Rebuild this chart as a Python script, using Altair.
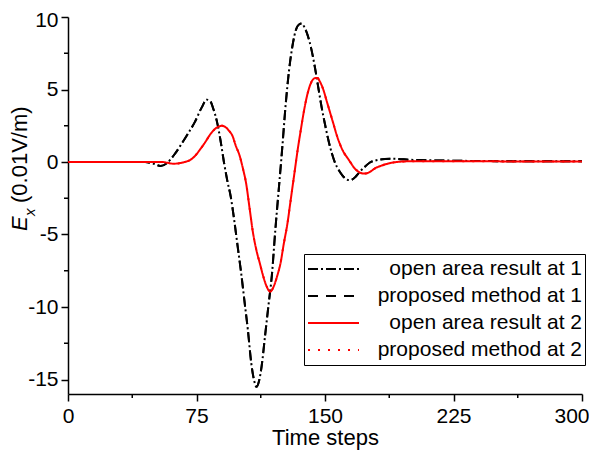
import altair as alt
import pandas as pd

# ---- data ----
steps_1 = [0, 30, 45, 50, 54, 58, 62, 66, 70, 74, 78, 81, 83, 85, 87, 89, 91, 93, 95, 97,
           99, 101, 103, 105, 107, 108.5, 110, 111.5, 113, 115, 117, 119, 121, 123, 125,
           127, 129, 131, 133, 135, 136.5, 138, 140, 142, 144, 146, 148, 150, 152, 154,
           156, 158, 160, 162, 164, 166, 168, 170, 173, 176, 180, 185, 190, 200, 220, 250, 300]
ex_open_1 = [0, 0, 0, -0.12, -0.27, -0.05, 0.5, 1.2, 1.95, 2.75, 3.75, 4.3, 4.2, 3.6, 2.75,
             1.5, 0.0, -1.3, -2.4, -4.0, -5.8, -7.6, -9.6, -11.6, -13.9, -15.0, -15.5, -15.1,
             -14.1, -12.0, -9.9, -7.8, -4.7, -1.9, 0.9, 3.9, 6.3, 8.0, 9.1, 9.5, 9.55, 9.3,
             8.7, 7.8, 6.6, 5.2, 3.8, 2.6, 1.5, 0.6, -0.1, -0.55, -0.9, -1.15, -1.25, -1.2,
             -1.0, -0.72, -0.35, -0.05, 0.12, 0.2, 0.22, 0.15, 0.1, 0.06, 0.05]
ex_prop_1 = [0, 0, 0, -0.12, -0.27, -0.05, 0.5, 1.2, 1.95, 2.75, 3.75, 4.3, 4.2, 3.6, 2.75,
             1.5, 0.0, -1.3, -2.4, -4.0, -5.8, -7.6, -9.6, -11.6, -13.9, -15.0, -15.5, -15.1,
             -14.1, -12.0, -9.9, -7.8, -4.7, -1.9, 0.9, 3.9, 6.3, 8.0, 9.1, 9.5, 9.55, 9.3,
             8.7, 7.8, 6.6, 5.2, 3.8, 2.6, 1.5, 0.6, -0.1, -0.55, -0.9, -1.15, -1.25, -1.2,
             -1.0, -0.72, -0.35, -0.05, 0.12, 0.2, 0.22, 0.15, 0.1, 0.06, 0.05]

steps_2 = [0, 30, 50, 55, 58, 61.5, 65, 68, 71, 74, 77, 80, 83, 86, 88, 90, 92, 94, 96, 98,
           100, 102, 104, 106, 108, 110, 112, 114, 116, 118, 120, 122, 124, 126, 128, 130,
           132, 134, 136, 138, 140, 142, 144, 145.5, 147, 149, 151, 153, 155, 157, 159, 161,
           163, 165, 167, 169, 171, 173, 176, 179, 183, 187, 192, 200, 230, 260, 300]
ex_open_2 = [0, 0, 0, 0, -0.05, -0.12, -0.08, 0, 0.12, 0.4, 0.85, 1.35, 1.9, 2.3, 2.45, 2.5,
             2.4, 2.15, 1.8, 1.1, 0.5, -0.4, -1.5, -3.2, -4.9, -6.1, -7.0, -7.9, -8.6, -8.95,
             -8.6, -7.9, -7.0, -5.6, -4.3, -2.6, -0.9, 0.8, 2.3, 3.7, 4.8, 5.5, 5.78, 5.8,
             5.55, 5.0, 4.2, 3.4, 2.6, 1.8, 1.15, 0.65, 0.3, -0.05, -0.4, -0.62, -0.76, -0.8,
             -0.7, -0.45, -0.25, -0.1, 0, 0.05, 0.05, 0.04, 0.03]
ex_prop_2 = [0, 0, 0, 0, -0.05, -0.12, -0.08, 0, 0.12, 0.4, 0.85, 1.35, 1.9, 2.3, 2.45, 2.5,
             2.4, 2.15, 1.8, 1.1, 0.5, -0.4, -1.5, -3.2, -4.9, -6.1, -7.0, -7.9, -8.6, -8.95,
             -8.6, -7.9, -7.0, -5.6, -4.3, -2.6, -0.9, 0.8, 2.3, 3.7, 4.8, 5.5, 5.78, 5.8,
             5.55, 5.0, 4.2, 3.4, 2.6, 1.8, 1.15, 0.65, 0.3, -0.05, -0.4, -0.62, -0.76, -0.8,
             -0.7, -0.45, -0.25, -0.1, 0, 0.05, 0.05, 0.04, 0.03]

series_names = ["open area result at 1", "proposed method at 1",
                "open area result at 2", "proposed method at 2"]
series_colors = ["#000000", "#000000", "#ff0000", "#ff0000"]
series_dashes = [[10, 3, 2, 3], [10, 8], [1, 0], [2, 8]]

x_ticks = [0, 75, 150, 225, 300]
x_minor = [37.5, 112.5, 187.5, 262.5]
y_ticks = [-15, -10, -5, 0, 5, 10]
y_minor = [-12.5, -7.5, -2.5, 2.5, 7.5]

# ---- build long table ----
rows = []
for name, xs, ys in [(series_names[0], steps_1, ex_open_1),
                     (series_names[1], steps_1, ex_prop_1),
                     (series_names[2], steps_2, ex_open_2),
                     (series_names[3], steps_2, ex_prop_2)]:
    for i, (s, v) in enumerate(zip(xs, ys)):
        rows.append({"step": s, "Ex": v, "series": name, "idx": i})
df = pd.DataFrame(rows)

FONT = "Liberation Sans"
W, H = 514, 377

xscale = alt.Scale(domain=[0, 300], nice=False, zero=False)
yscale = alt.Scale(domain=[-16, 10], nice=False, zero=False)

xaxis = alt.Axis(values=x_ticks, tickSize=7, tickWidth=1.5, tickColor="black",
                 domainWidth=1.5, domainColor="black", grid=False,
                 labelFontSize=21, labelColor="black", labelPadding=4, labelFlush=False,
                 labelFont=FONT, labelExpr="'' + datum.value",
                 labelAlign={"condition": {"test": "datum.value == 300", "value": "right"},
                             "value": "center"},
                 labelOffset={"condition": {"test": "datum.value == 300", "value": 7},
                              "value": 0},
                 titleFontSize=22, titleFontWeight="normal", titleColor="black",
                 titleFont=FONT, titlePadding=1)
yaxis = alt.Axis(values=y_ticks, tickSize=7, tickWidth=1.5, tickColor="black",
                 domainWidth=1.5, domainColor="black", grid=False,
                 labelFontSize=21, labelColor="black", labelPadding=3, labelFlush=False,
                 labelFont=FONT, labelExpr="'' + datum.value",
                 labelOffset={"condition": {"test": "datum.value == 10", "value": 3},
                              "value": 0},
                 title=None)

def X(field="step"):
    return alt.X(f"{field}:Q", scale=xscale, axis=xaxis, title="Time steps")

def Y(field="Ex"):
    return alt.Y(f"{field}:Q", scale=yscale, axis=yaxis, title=None)

legend = alt.Legend(title=None, orient="none", legendX=236, legendY=237,
                    symbolType="stroke", symbolSize=2601, symbolStrokeWidth=2,
                    symbolOffset=0,
                    labelFontSize=21, labelFont=FONT, labelColor="black",
                    labelAlign="right", labelOffset=222, labelLimit=400,
                    clipHeight=24, rowPadding=3, padding=3,
                    strokeColor="black", fillColor="white")

lines = alt.Chart(df).mark_line(strokeWidth=2, interpolate="monotone").encode(
    x=X(), y=Y(),
    color=alt.Color("series:N", scale=alt.Scale(domain=series_names, range=series_colors),
                    legend=legend),
    strokeDash=alt.StrokeDash("series:N",
                              scale=alt.Scale(domain=series_names, range=series_dashes),
                              legend=legend),
    order="idx:Q",
)

xminor = alt.Chart(pd.DataFrame({"step": x_minor})).mark_rule(
    color="black", strokeWidth=1.5).encode(x=X(), y=alt.value(H), y2=alt.value(H + 4))
yminor = alt.Chart(pd.DataFrame({"Ex": y_minor})).mark_rule(
    color="black", strokeWidth=1.5).encode(y=Y(), x=alt.value(0), x2=alt.value(-4))

t_E = alt.Chart(pd.DataFrame({"t": ["E"]})).mark_text(
    angle=270, align="left", baseline="alphabetic", fontSize=22, fontStyle="italic",
    font=FONT, color="black").encode(x=alt.value(-41), y=alt.value(214), text="t:N")
t_x = alt.Chart(pd.DataFrame({"t": ["x"]})).mark_text(
    angle=270, align="left", baseline="alphabetic", fontSize=15, fontStyle="italic",
    font=FONT, color="black").encode(x=alt.value(-33), y=alt.value(199), text="t:N")
t_u = alt.Chart(pd.DataFrame({"t": ["(0.01V/m)"]})).mark_text(
    angle=270, align="left", baseline="alphabetic", fontSize=22,
    font=FONT, color="black").encode(x=alt.value(-41), y=alt.value(186), text="t:N")

chart = alt.layer(lines, xminor, yminor, t_E, t_x, t_u).properties(
    width=W, height=H,
    padding={"left": 60, "top": 9, "right": 7, "bottom": 56},
    autosize=alt.AutoSizeParams(type="none"),
    background="white",
).configure(font=FONT).configure_view(stroke=None)

chart.save("out.html", embed_options={"renderer": "svg", "actions": False})
